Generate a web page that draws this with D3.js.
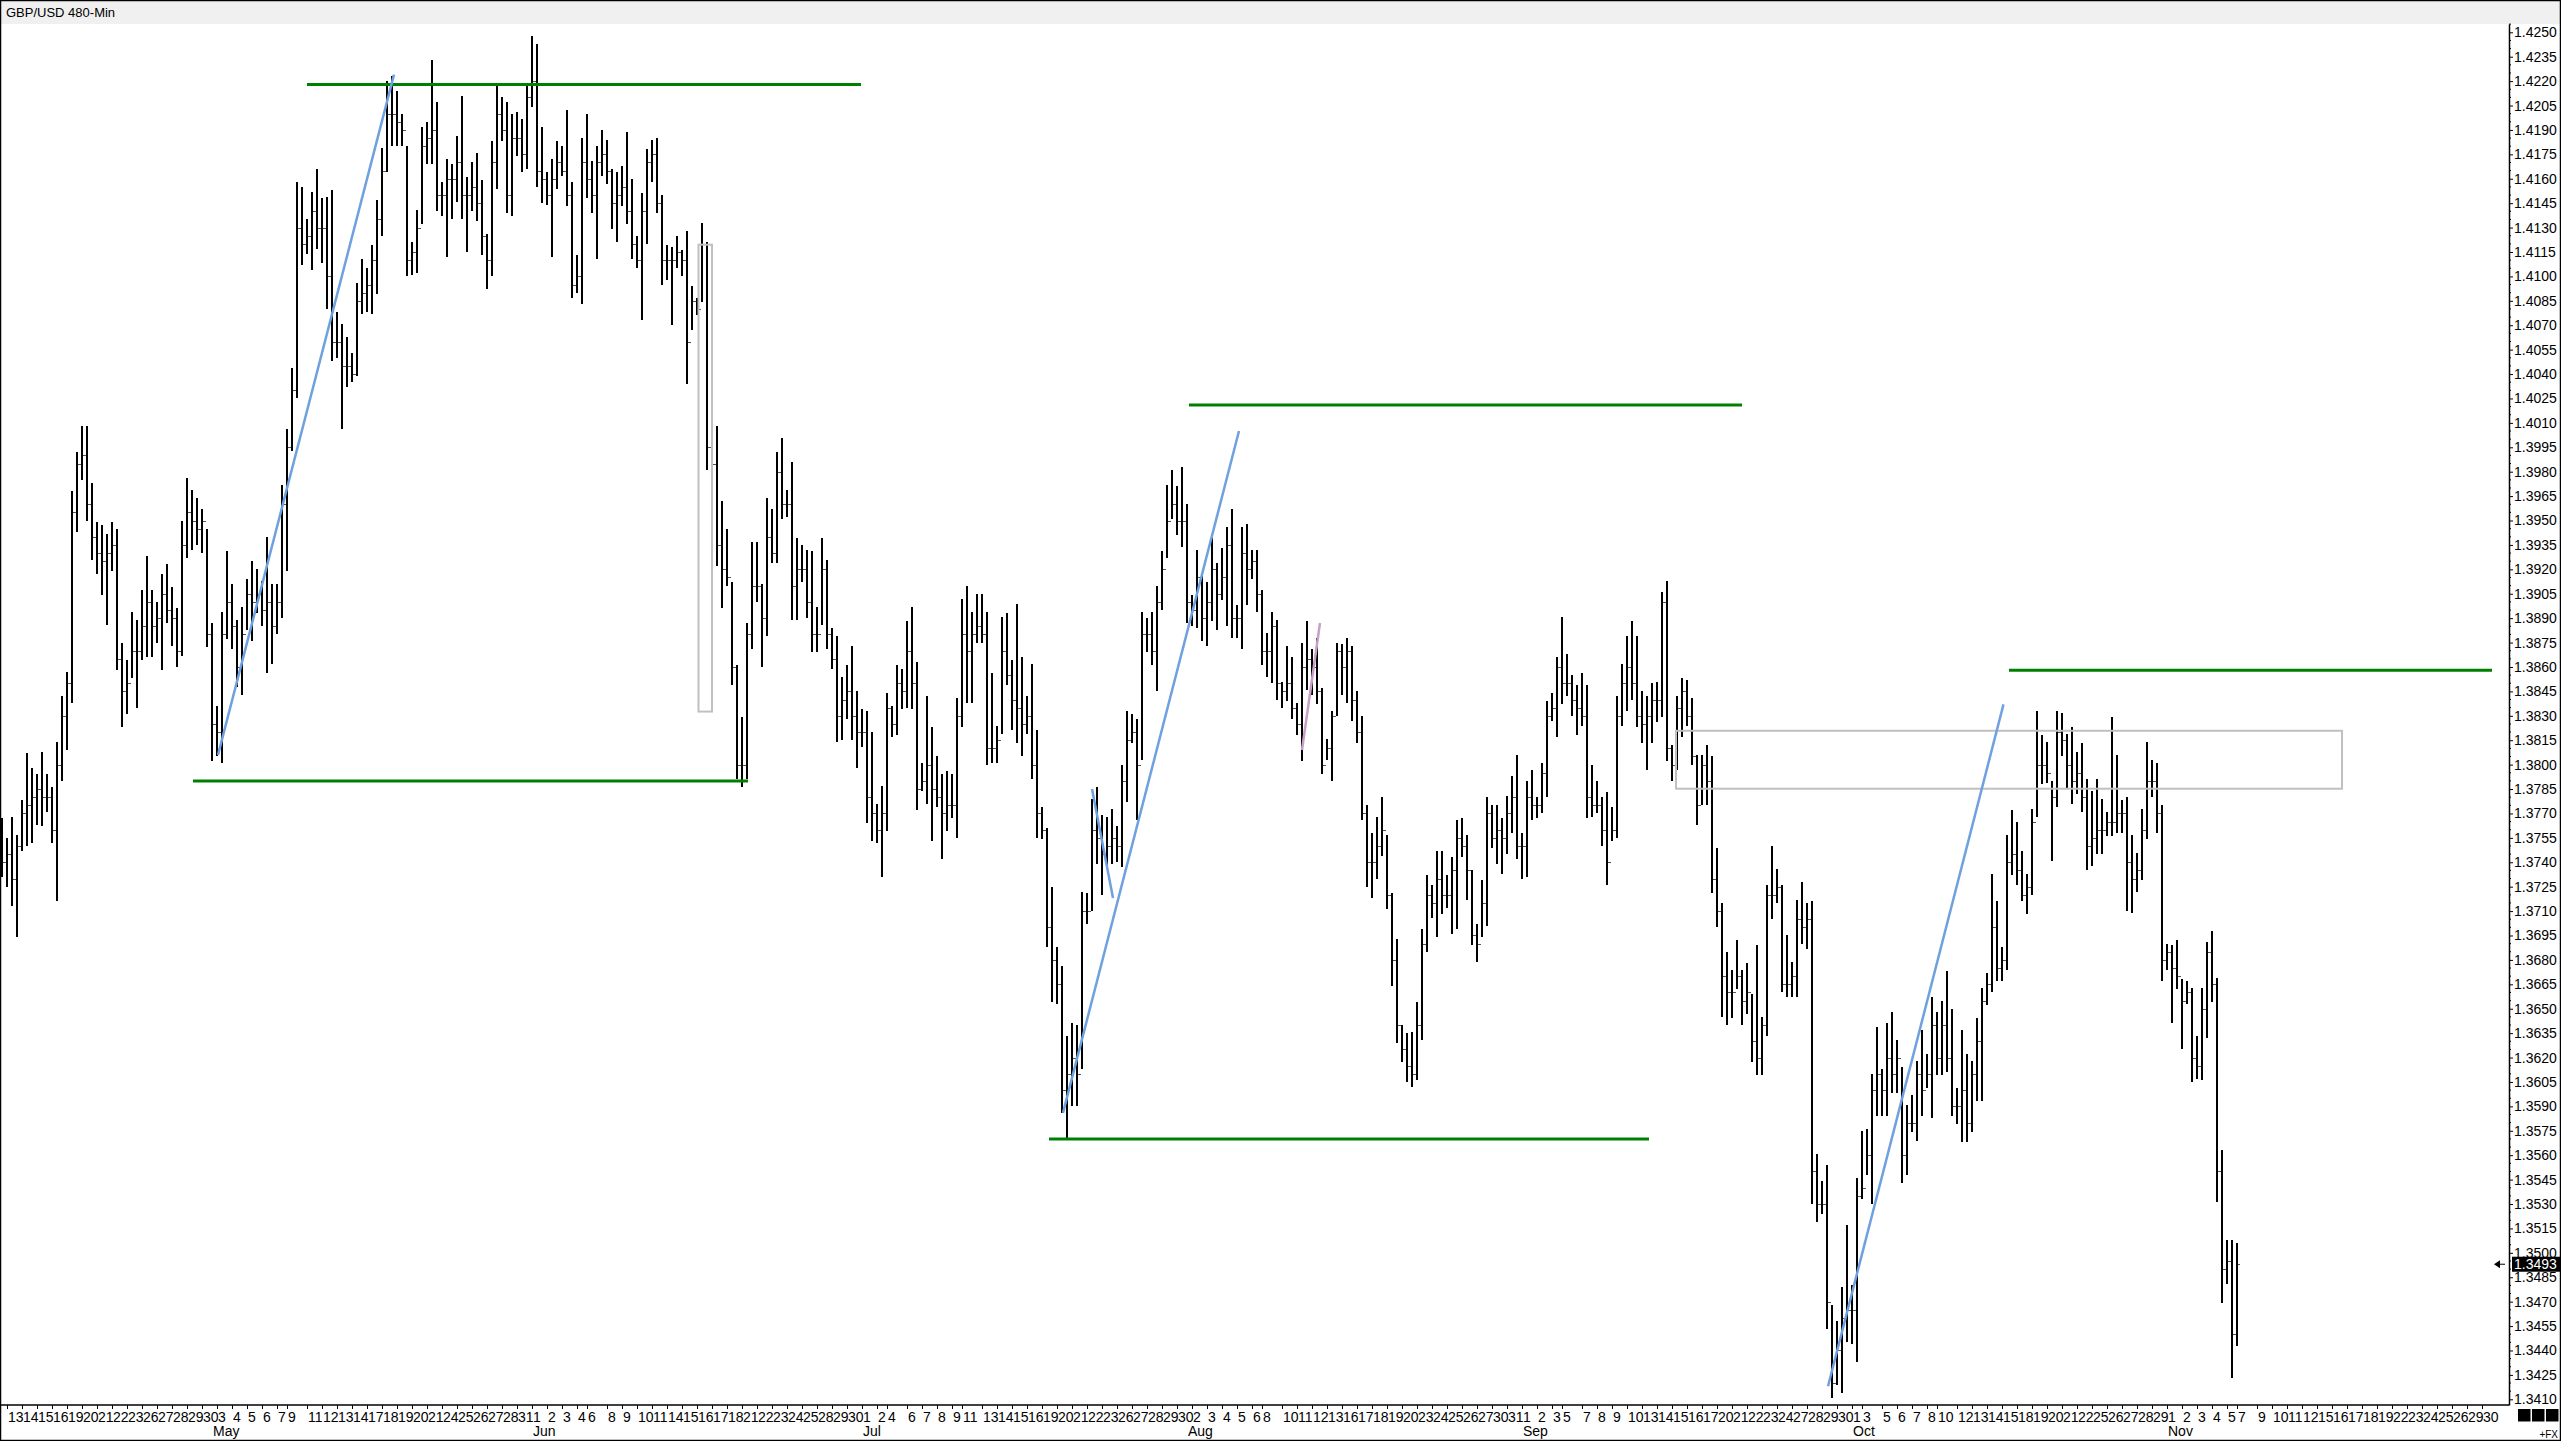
<!DOCTYPE html>
<html>
<head>
<meta charset="utf-8">
<title>GBP/USD 480-Min</title>
<script src="https://cdn.jsdelivr.net/npm/d3@7/dist/d3.min.js"></script>
<style>
  html, body { margin: 0; padding: 0; background: #fff; }
  svg { display: block; font-family: "Liberation Sans", Arial, sans-serif; }
</style>
</head>
<body>
<div id="chart"></div>
<script>
// GBP/USD 480-min bars, prices in pips (1 pip = 0.0001), one value per bar
var highs = [
  13767,13755,13768,13757,13778,13807,13798,13794,13808,13794,13786,13814,13842,13857,13968,13992,14008,14008,13973,13949,
  13947,13942,13949,13945,13875,13864,13894,13889,13907,13928,13907,13900,13917,13923,13909,13896,13950,13976,13969,13964,
  13957,13945,13887,13836,13894,13931,13911,13889,13897,13914,13925,13920,13913,13940,13911,13911,13972,14006,14044,14158,
  14155,14135,14152,14166,14148,14149,14153,14078,14071,14063,14053,14096,14111,14105,14119,14147,14179,14220,14223,14214,
  14200,14180,14121,14141,14192,14195,14233,14207,14158,14172,14169,14186,14211,14161,14170,14176,14159,14126,14183,14219,
  14210,14207,14200,14201,14197,14218,14248,14243,14192,14164,14172,14183,
  14180,14202,14158,14113,14185,14200,14171,14180,14190,14184,14166,14164,14168,14189,14160,14125,14151,14178,14184,14185,
  14150,14119,14118,14125,14116,14128,14094,14087,14133,14121,14002,14008,13962,13945,13912,13861,13829,13887,13937,13937,
  13911,13964,13957,13992,14001,13969,13986,13939,13935,13932,13931,13897,13939,13926,13884,13879,13854,13861,13873,13845,
  13834,13833,13820,13776,13787,13844,13836,13861,13859,13888,13897,13863,13801,13842,13823,13805,13794,13796,13794,13841,
  13902,13910,13894,13905,13905,13894,13856,13824,13891,13893,13864,13899,13866,13842,13862,13821,13774,13761,13725,13688,
  13676,13633,13641,13640,13722,13721,13779,13786,13769,13768,13773,13762,
  13800,13833,13831,13828,13894,13890,13894,13910,13931,13972,13981,13971,13983,13960,13904,13932,13918,13912,13939,13924,
  13933,13946,13957,13898,13946,13948,13932,13932,13907,13881,13894,13889,13851,13873,13866,13838,13875,13888,13871,13878,
  13847,13816,13833,13875,13874,13878,13873,13845,13830,13775,13758,13768,13780,13757,13721,13693,13640,13635,13636,13654,
  13699,13732,13726,13747,13747,13732,13743,13766,13767,13757,13735,13702,13729,13780,13775,13775,13767,13781,13793,13806,
  13758,13790,13797,13780,13801,13839,13844,13866,13891,13868,13855,13849,13856,13849,13800,13790,13780,13783,13774,13842,
  13862,13879,13888,13879,13845,13842,13850,13851,13906,13913,13812,13842,
  13853,13852,13841,13806,13806,13812,13805,13749,13715,13685,13674,13692,13674,13678,13659,13689,13645,13726,13750,13736,
  13726,13695,13679,13717,13728,13715,13716,13561,13544,13554,13468,13458,13479,13517,13480,13546,13575,13576,13610,13639,
  13613,13641,13648,13631,13614,13591,13597,13618,13637,13622,13657,13648,13655,13673,13650,13601,13637,13622,13618,13644,
  13663,13672,13733,13716,13688,13757,13772,13765,13747,13733,13773,13833,13818,13814,13790,13833,13832,13819,13823,13808,
  13813,13791,13784,13791,13779,13771,13829,13806,13778,13780,13757,13746,13773,13814,13803,13801,13775,13690,13689,13692,
  13668,13667,13663,13633,13663,13691,13698,13669,13563,13508,13508,13506
];
var lows = [
  13731,13725,13713,13694,13747,13750,13752,13763,13762,13771,13752,13716,13790,13809,13838,13943,13975,13950,13926,13917,
  13904,13886,13919,13858,13823,13831,13853,13835,13864,13866,13866,13875,13858,13887,13873,13860,13867,13927,13932,13935,
  13930,13872,13802,13805,13801,13877,13871,13848,13843,13883,13876,13893,13885,13856,13862,13880,13890,13919,13993,14025,
  14107,14114,14104,14117,14108,14080,14048,14050,14006,14032,14035,14039,14077,14078,14077,14089,14125,14164,14180,14180,
  14180,14100,14101,14102,14132,14169,14169,14140,14137,14112,14135,14146,14135,14115,14140,14134,14113,14092,14100,14154,
  14183,14139,14137,14174,14164,14166,14204,14155,14145,14144,14112,14154,
  14162,14143,14087,14090,14083,14148,14139,14111,14162,14157,14129,14121,14143,14132,14111,14105,14073,14120,14158,14139,
  14095,14098,14070,14105,14100,14034,14067,14076,14084,13981,13971,13922,13896,13910,13849,13791,13786,13791,13871,13900,
  13860,13879,13924,13924,13951,13952,13889,13889,13912,13890,13869,13869,13886,13871,13859,13814,13815,13828,13815,13798,
  13811,13764,13753,13752,13731,13759,13817,13818,13834,13835,13834,13772,13784,13776,13753,13774,13742,13759,13767,13755,
  13823,13838,13838,13875,13875,13800,13801,13801,13819,13849,13821,13813,13805,13819,13791,13755,13754,13688,13654,13653,
  13586,13570,13590,13590,13613,13702,13710,13739,13720,13738,13739,13740,
  13737,13777,13813,13766,13803,13869,13861,13845,13895,13927,13951,13941,13934,13887,13885,13884,13876,13873,13888,13883,
  13901,13885,13878,13878,13871,13898,13914,13894,13861,13854,13850,13840,13835,13839,13828,13818,13802,13846,13843,13837,
  13794,13803,13790,13830,13843,13838,13827,13813,13766,13725,13718,13730,13744,13711,13664,13629,13617,13605,13602,13606,
  13631,13685,13706,13694,13708,13712,13696,13699,13743,13717,13689,13679,13694,13701,13749,13739,13733,13745,13758,13742,
  13730,13731,13766,13767,13770,13780,13827,13817,13837,13842,13830,13818,13824,13767,13768,13770,13750,13726,13753,13755,
  13824,13833,13840,13823,13813,13797,13813,13826,13829,13802,13790,13797,
  13817,13824,13800,13763,13775,13775,13721,13700,13645,13640,13644,13662,13640,13647,13617,13609,13609,13633,13705,13715,
  13660,13657,13657,13657,13690,13687,13530,13519,13524,13453,13411,13419,13414,13445,13444,13433,13533,13548,13530,13584,
  13584,13584,13598,13598,13543,13548,13574,13569,13584,13601,13583,13609,13609,13611,13584,13579,13568,13568,13574,13593,
  13593,13652,13660,13667,13667,13674,13732,13726,13716,13708,13720,13768,13788,13789,13741,13774,13805,13785,13776,13782,
  13771,13735,13738,13745,13745,13756,13756,13758,13758,13710,13709,13722,13729,13754,13780,13758,13667,13674,13641,13662,
  13625,13653,13605,13607,13606,13632,13654,13531,13469,13481,13423,13443
];
var closes = [
  13740,13745,13730,13750,13770,13775,13780,13785,13780,13780,13760,13800,13830,13850,13955,13985,13990,13960,13940,13930,
  13925,13930,13935,13865,13845,13850,13870,13870,13885,13900,13885,13890,13905,13895,13890,13870,13935,13955,13950,13945,
  13950,13880,13825,13820,13880,13900,13885,13860,13880,13905,13900,13905,13895,13900,13885,13900,13960,13995,14030,14130,
  14120,14125,14140,14130,14130,14100,14060,14060,14045,14045,14040,14085,14090,14095,14110,14135,14165,14200,14200,14195,
  14190,14110,14115,14130,14180,14185,14190,14150,14150,14160,14160,14170,14150,14150,14155,14145,14125,14110,14170,14200,
  14190,14150,14185,14185,14175,14210,14220,14165,14160,14150,14160,14170,
  14165,14150,14095,14100,14170,14160,14150,14170,14175,14165,14145,14150,14155,14140,14120,14110,14140,14170,14175,14145,
  14110,14110,14110,14115,14110,14060,14085,14080,14120,13995,13985,13935,13920,13915,13860,13800,13800,13880,13910,13910,
  13890,13940,13930,13980,13960,13960,13910,13920,13920,13900,13880,13880,13920,13880,13865,13830,13840,13845,13830,13820,
  13820,13780,13770,13760,13770,13835,13825,13850,13845,13870,13850,13785,13790,13800,13785,13780,13770,13775,13775,13830,
  13880,13870,13880,13885,13880,13810,13810,13815,13870,13855,13840,13835,13825,13830,13800,13770,13760,13700,13680,13665,
  13600,13610,13620,13610,13710,13710,13760,13755,13745,13750,13755,13750,
  13790,13815,13820,13800,13880,13880,13870,13900,13920,13950,13960,13950,13950,13900,13895,13915,13890,13900,13920,13905,
  13915,13935,13890,13890,13930,13920,13925,13905,13870,13870,13885,13850,13845,13850,13835,13825,13860,13865,13860,13845,
  13800,13810,13830,13870,13860,13870,13840,13820,13770,13740,13740,13750,13760,13720,13680,13640,13625,13615,13610,13640,
  13690,13720,13715,13730,13720,13720,13735,13755,13750,13735,13695,13690,13715,13770,13755,13760,13755,13770,13780,13750,
  13750,13780,13775,13775,13795,13830,13835,13860,13850,13850,13840,13835,13830,13780,13775,13775,13760,13740,13760,13830,
  13850,13860,13850,13830,13825,13830,13840,13840,13900,13810,13800,13835,
  13845,13830,13805,13775,13800,13790,13730,13710,13670,13660,13660,13670,13655,13660,13630,13620,13640,13720,13720,13725,
  13665,13665,13670,13705,13700,13705,13550,13530,13530,13470,13420,13440,13460,13465,13465,13535,13540,13560,13600,13610,
  13600,13620,13610,13620,13560,13580,13580,13610,13600,13610,13640,13620,13640,13620,13590,13590,13600,13580,13610,13630,
  13655,13665,13700,13675,13680,13740,13745,13735,13720,13725,13765,13800,13800,13795,13780,13820,13815,13800,13790,13795,
  13780,13750,13755,13760,13760,13765,13765,13770,13770,13740,13730,13735,13760,13790,13790,13770,13680,13685,13675,13670,
  13655,13660,13620,13615,13650,13685,13665,13550,13490,13495,13450,13493
];
var firstOpen = 13760;          // open of the first bar, later bars open at the previous close
var lastPrice = 1.3493;

// drawings: horizontal levels [fromBar, toBar, price]
var levels = [[61, 171.8, 1.4218], [38.2, 149.2, 1.3790], [237.4, 348, 1.4021], [209.4, 329.4, 1.3570], [401.4, 498, 1.3858]];
// trend lines [bar1, price1, bar2, price2]
var blueLines = [[43.2, 1.3806, 78.4, 1.4224], [212.2, 1.3586, 247.4, 1.4005], [218, 1.3785, 222.2, 1.3718], [365.2, 1.3418, 400.3, 1.3837]];
var pinkLines = [[260, 1.3809, 263.6, 1.3887]];
// rectangles [bar1, priceTop, bar2, priceBottom]
var boxes = [[139.3, 1.41195, 142.0, 1.38326], [334.8, 1.38208, 468, 1.37852]];

var width = 2561, height = 1441;
var plot = {left: 0, top: 24, right: 2509, bottom: 1405};

// bar clock: 8h bars starting Mon 12 Apr 2021 17:00, market shut Fri 17:00 - Sun 17:00
var barTimes = [];
for (var t = Date.UTC(2021, 3, 12, 17); barTimes.length < 499; t += 8 * 3600e3) {
  var dt = new Date(t), wd = dt.getUTCDay(), hr = dt.getUTCHours();
  if (wd === 6 || (wd === 5 && hr >= 17) || (wd === 0 && hr < 17)) continue;
  barTimes.push(dt);
}

var x = d3.scaleLinear().domain([0, 501.4]).range([2, plot.right]);
var y = d3.scaleLinear().domain([1.34065, 1.42551]).range([plot.bottom, plot.top]);

var bars = highs.map(function(h, i) {
  return {i: i, high: h / 1e4, low: lows[i] / 1e4, close: closes[i] / 1e4,
          open: (i === 0 ? firstOpen : closes[i - 1]) / 1e4};
});

var svg = d3.select("#chart").append("svg")
    .attr("width", width).attr("height", height)
    .attr("viewBox", "0 0 " + width + " " + height);

svg.append("rect").attr("width", width).attr("height", height).attr("fill", "#fff");
svg.append("rect").attr("width", width).attr("height", plot.top).attr("fill", "#f0f0f0");
svg.append("text").attr("x", 6).attr("y", 17).attr("font-size", 13).attr("fill", "#000").text("GBP/USD 480-Min");

// bars
var gb = svg.append("g").attr("class", "bars").attr("shape-rendering", "crispEdges");
gb.selectAll("line.hl").data(bars).enter().append("line")
    .attr("class", "hl")
    .attr("x1", function(d) { return Math.round(x(d.i)); })
    .attr("x2", function(d) { return Math.round(x(d.i)); })
    .attr("y1", function(d) { return y(d.high); })
    .attr("y2", function(d) { return y(d.low); })
    .attr("stroke", "#000").attr("stroke-width", 2);
gb.selectAll("line.op").data(bars).enter().append("line")
    .attr("class", "op")
    .attr("x1", function(d) { return Math.round(x(d.i)) - 3; })
    .attr("x2", function(d) { return Math.round(x(d.i)) - 1; })
    .attr("y1", function(d) { return Math.round(y(d.open)) + 0.5; })
    .attr("y2", function(d) { return Math.round(y(d.open)) + 0.5; })
    .attr("stroke", "#555").attr("stroke-width", 1);
gb.selectAll("line.cl").data(bars).enter().append("line")
    .attr("class", "cl")
    .attr("x1", function(d) { return Math.round(x(d.i)) + 1; })
    .attr("x2", function(d) { return Math.round(x(d.i)) + 3; })
    .attr("y1", function(d) { return Math.round(y(d.close)) + 0.5; })
    .attr("y2", function(d) { return Math.round(y(d.close)) + 0.5; })
    .attr("stroke", "#555").attr("stroke-width", 1);

// drawings
var gd = svg.append("g").attr("class", "drawings");
gd.selectAll("rect").data(boxes).enter().append("rect")
    .attr("x", function(d) { return x(d[0]); })
    .attr("y", function(d) { return y(d[1]); })
    .attr("width", function(d) { return x(d[2]) - x(d[0]); })
    .attr("height", function(d) { return y(d[3]) - y(d[1]); })
    .attr("fill", "none").attr("stroke", "#c0c0c0").attr("stroke-width", 2);
gd.selectAll("line.lvl").data(levels).enter().append("line")
    .attr("class", "lvl")
    .attr("x1", function(d) { return x(d[0]); })
    .attr("x2", function(d) { return x(d[1]); })
    .attr("y1", function(d) { return y(d[2]); })
    .attr("y2", function(d) { return y(d[2]); })
    .attr("stroke", "#008000").attr("stroke-width", 3);
gd.selectAll("line.blue").data(blueLines).enter().append("line")
    .attr("class", "blue")
    .attr("x1", function(d) { return x(d[0]); })
    .attr("y1", function(d) { return y(d[1]); })
    .attr("x2", function(d) { return x(d[2]); })
    .attr("y2", function(d) { return y(d[3]); })
    .attr("stroke", "#6fa0e0").attr("stroke-width", 2.5);
gd.selectAll("line.pink").data(pinkLines).enter().append("line")
    .attr("class", "pink")
    .attr("x1", function(d) { return x(d[0]); })
    .attr("y1", function(d) { return y(d[1]); })
    .attr("x2", function(d) { return x(d[2]); })
    .attr("y2", function(d) { return y(d[3]); })
    .attr("stroke", "#c8a0c8").attr("stroke-width", 2.5);

// price axis
var majorTicks = d3.range(13410, 14251, 15).map(function(v) { return v / 1e4; });
var minorTicks = d3.range(13410, 14256, 5).filter(function(v) { return (v - 13410) % 15 !== 0; }).map(function(v) { return v / 1e4; });

var ya = svg.append("g")
    .attr("class", "axis axis--y")
    .attr("transform", "translate(" + plot.right + ",0)")
    .call(d3.axisRight(y).tickValues(majorTicks).tickFormat(d3.format(".4f")).tickSize(4).tickSizeOuter(0).tickPadding(1));
ya.select(".domain").attr("stroke", "#000").attr("stroke-width", 1.5);
ya.selectAll(".tick line").attr("stroke", "#000");
ya.selectAll("text").attr("font-size", 14).attr("font-family", "Liberation Sans, Arial, sans-serif").attr("fill", "#000");
ya.selectAll("line.minor").data(minorTicks).enter().append("line")
    .attr("class", "minor")
    .attr("x1", 0).attr("x2", 2)
    .attr("y1", function(d) { return y(d); }).attr("y2", function(d) { return y(d); })
    .attr("stroke", "#000");

// last price tag
var yl = y(lastPrice);
svg.append("rect").attr("x", plot.right + 3).attr("y", yl - 7.5).attr("width", width - plot.right - 3).attr("height", 15).attr("fill", "#000");
svg.append("text").attr("x", plot.right + 5).attr("y", yl + 5).attr("font-size", 14).attr("fill", "#fff").text(d3.format(".4f")(lastPrice));
svg.append("path").attr("d", "M" + (plot.right - 15) + "," + yl + "l6,-4v8z").attr("fill", "#000");
svg.append("line").attr("x1", plot.right - 10).attr("x2", plot.right - 4).attr("y1", yl).attr("y2", yl).attr("stroke", "#000");

// time axis
svg.append("line").attr("x1", 0).attr("x2", plot.right).attr("y1", plot.bottom).attr("y2", plot.bottom)
    .attr("stroke", "#000").attr("stroke-width", 1.5);
var gx = svg.append("g").attr("class", "axis axis--x").attr("font-size", 14).attr("fill", "#000");
var lastEnd = -Infinity;
for (var i = 1; i < barTimes.length; i++) {
  var prev = barTimes[i - 1], cur = barTimes[i];
  if (cur.getUTCDate() === prev.getUTCDate()) continue;
  var tx = Math.round(x(i));
  var lab = gx.append("text").attr("x", tx + 1).attr("y", 1422).text(cur.getUTCDate());
  var w = lab.node().getComputedTextLength();
  if (tx + 1 < lastEnd - 1.2) { lab.remove(); }
  else {
    lastEnd = tx + 1 + w;
    gx.append("line").attr("x1", tx + 0.5).attr("x2", tx + 0.5).attr("y1", plot.bottom).attr("y2", plot.bottom + 4).attr("stroke", "#000");
  }
  if (cur.getUTCMonth() !== prev.getUTCMonth()) {
    gx.append("text").attr("x", tx + 1).attr("y", 1436).text(d3.utcFormat("%b")(cur));
  }
}

// corner widgets
[0, 1, 2].forEach(function(k) {
  svg.append("rect").attr("x", 2518 + k * 14).attr("y", 1409).attr("width", 12.5).attr("height", 12.5).attr("fill", "#000");
});
svg.append("text").attr("x", 2558).attr("y", 1438).attr("text-anchor", "end").attr("font-size", 10).text("+FX");

// frame
svg.append("rect").attr("x", 0.5).attr("y", 0.5).attr("width", width - 1).attr("height", height - 1)
    .attr("fill", "none").attr("stroke", "#000").attr("stroke-width", 1.5);
</script>
</body>
</html>
